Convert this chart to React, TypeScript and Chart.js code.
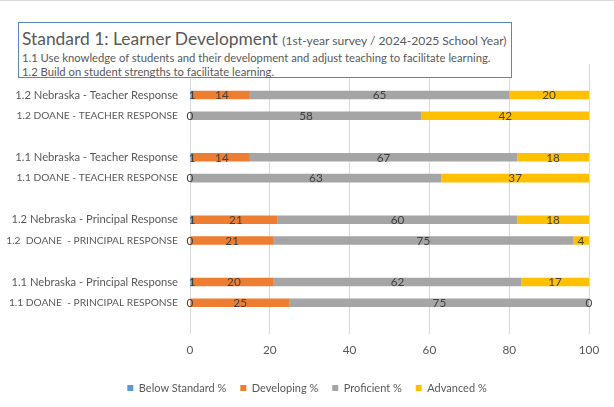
import React, { useEffect, useRef } from "react";
import { Chart, registerables } from "chart.js";

Chart.register(...registerables);

const categories: string[] = [
  "",
  "1.2 Nebraska - Teacher Response",
  "1.2 DOANE - TEACHER RESPONSE",
  "",
  "1.1 Nebraska - Teacher Response",
  "1.1 DOANE - TEACHER RESPONSE",
  "",
  "1.2 Nebraska - Principal Response",
  "1.2  DOANE  - PRINCIPAL RESPONSE",
  "",
  "1.1 Nebraska - Principal Response",
  "1.1 DOANE  - PRINCIPAL RESPONSE",
  "",
];

const belowStandard: (number | null)[] = [null, 1, 0, null, 1, 0, null, 1, 0, null, 1, 0, null];
const developing: (number | null)[] = [null, 14, null, null, 14, null, null, 21, 21, null, 20, 25, null];
const proficient: (number | null)[] = [null, 65, 58, null, 67, 63, null, 60, 75, null, 62, 75, null];
const advanced: (number | null)[] = [null, 20, 42, null, 18, 37, null, 18, 4, null, 17, 0, null];

const seriesNames = ["Below Standard %", "Developing %", "Proficient %", "Advanced %"];
const seriesColors = ["#5B9BD5", "#ED7D31", "#A5A5A5", "#FFC000"];
const xTicks = [0, 20, 40, 60, 80, 100];

const FONT = "Lato, 'Open Sans', sans-serif";
const TEXT = "#595959";
const LEGEND_PAD = 14;

const labelPlugin = {
  id: "segLabels",
  afterLayout(chart: any) {
    // centre the legend on the whole canvas rather than on the padded area
    const lg = chart.legend;
    if (lg) {
      const shift = (chart.width - (lg.left + lg.right)) / 2;
      lg.left += shift;
      lg.right += shift;
    }
  },
  afterDatasetsDraw(chart: any) {
    const ctx = chart.ctx;
    ctx.save();
    ctx.font = `11.75px ${FONT}`;
    ctx.fillStyle = "#404040";
    ctx.textAlign = "center";
    ctx.textBaseline = "middle";
    chart.data.datasets.forEach((ds: any, di: number) => {
      const meta = chart.getDatasetMeta(di);
      meta.data.forEach((el: any, i: number) => {
        const v = ds.data[i];
        if (v === null || v === undefined) return;
        const p = el.getCenterPoint();
        ctx.fillText(String(v), p.x, p.y + 0.5);
      });
    });
    ctx.restore();
  },
};

export default function App() {
  const ref = useRef<HTMLCanvasElement | null>(null);

  useEffect(() => {
    if (!ref.current) return;
    const data = [belowStandard, developing, proficient, advanced];
    const chart = new Chart(ref.current, {
      type: "bar",
      data: {
        labels: categories,
        datasets: data.map((d, i) => ({
          label: seriesNames[i],
          data: d,
          backgroundColor: seriesColors[i],
          borderWidth: 0,
          categoryPercentage: 1,
          barPercentage: 0.41,
        })),
      },
      options: {
        indexAxis: "y",
        animation: false,
        responsive: false,
        maintainAspectRatio: false,
        layout: { padding: { left: 0, right: 25, top: 63.8, bottom: 3.5 } },
        plugins: {
          legend: {
            position: "bottom",
            labels: {
              boxWidth: 6,
              boxHeight: 6,
              padding: LEGEND_PAD,
              color: TEXT,
              font: { family: FONT, size: 11 },
            },
          },
          tooltip: { enabled: false },
          title: { display: false },
        },
        scales: {
          x: {
            stacked: true,
            min: 0,
            max: 100,
            afterBuildTicks: (s: any) => {
              s.ticks = xTicks.map((v) => ({ value: v }));
            },
            afterFit: (s: any) => {
              s.height = 48.5 - LEGEND_PAD;
            },
            grid: { color: "#D9D9D9", drawTicks: false },
            border: { display: false },
            ticks: { color: TEXT, font: { family: FONT, size: 11.75 }, padding: 9 },
          },
          y: {
            stacked: true,
            afterFit: (s: any) => {
              s.width = 190;
            },
            grid: { display: false, drawTicks: false },
            border: { display: false },
            ticks: {
              color: TEXT,
              padding: 12,
              autoSkip: false,
              font: (c: any) => {
                const lbl = categories[c.index] || "";
                const caps = lbl.indexOf("DOANE") >= 0;
                return { family: FONT, size: caps ? 10.2 : 11.2 };
              },
            },
          },
        },
      },
      plugins: [labelPlugin],
    } as any);
    return () => chart.destroy();
  }, []);

  return (
    <div
      style={{
        position: "fixed",
        left: 0,
        top: 0,
        width: 614,
        height: 407,
        background: "#fff",
      }}
    >
      <canvas ref={ref} width={614} height={407} style={{ position: "absolute", left: 0, top: 0 }} />
      <div style={{ position: "absolute", left: 0, top: 0, width: 614, height: 1, background: "#D9D9D9" }} />
      <div
        style={{
          position: "absolute",
          left: 18,
          top: 22,
          width: 494,
          height: 56,
          boxSizing: "border-box",
          border: "1px solid #5B86B8",
          background: "#fff",
          color: TEXT,
          fontFamily: FONT,
          padding: "6px 0 0 3px",
        }}
      >
        <div style={{ fontSize: 17.4, lineHeight: "20px", whiteSpace: "nowrap" }}>
          Standard 1: Learner Development <span style={{ fontSize: 12.1 }}>(1st-year survey / 2024-2025 School Year)</span>
        </div>
        <div style={{ fontSize: 11.25, lineHeight: "14px", whiteSpace: "nowrap" }}>
          1.1 Use knowledge of students and their development and adjust teaching to facilitate learning.
        </div>
        <div style={{ fontSize: 11.25, lineHeight: "14px", whiteSpace: "nowrap" }}>
          1.2 Build on student strengths to facilitate learning.
        </div>
      </div>
    </div>
  );
}
